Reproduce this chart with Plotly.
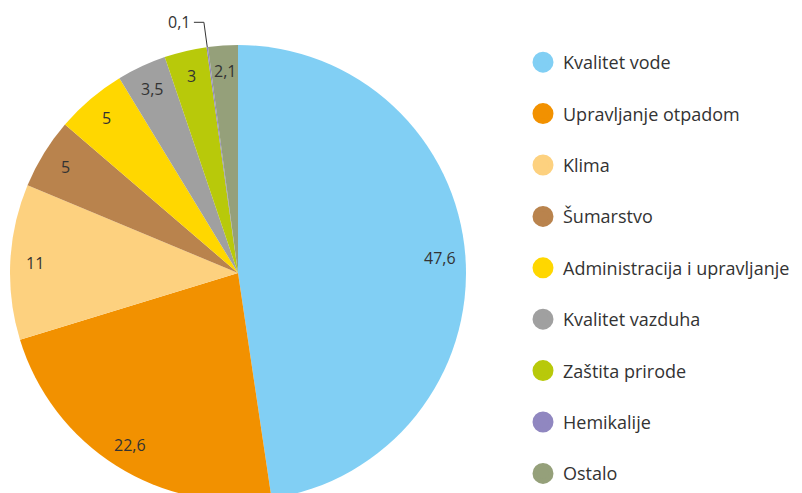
import math
import plotly.graph_objects as go

categories = ["Kvalitet vode", "Upravljanje otpadom", "Klima", "Šumarstvo",
              "Administracija i upravljanje", "Kvalitet vazduha", "Zaštita prirode",
              "Hemikalije", "Ostalo"]
values = [47.6, 22.6, 11, 5, 5, 3.5, 3, 0.1, 2.1]
value_labels = ["47,6", "22,6", "11", "5", "5", "3,5", "3", "0,1", "2,1"]
colors = ["#81CFF4", "#F29100", "#FDD17F", "#B9834D", "#FFD700",
          "#A0A0A0", "#B8C90A", "#9087C0", "#95A07A"]

W, H = 802, 493
OFF = 8  # page body margin
CX, CY, R = 238 - OFF, 273 - OFF, 228  # pie centre / radius in figure pixels
FONT = "Open Sans"
TXT = "#333333"

fig = go.Figure()
fig.add_trace(go.Pie(
    labels=categories, values=values, sort=False, direction="clockwise",
    rotation=0, marker=dict(colors=colors, line=dict(width=0)),
    textinfo="none", hoverinfo="label+value", showlegend=False,
    domain=dict(x=[(CX - R) / W, (CX + R) / W], y=[0, 2 * R / H]),
))

# legend entries as circles
for i, (c, col) in enumerate(zip(categories, colors)):
    fig.add_trace(go.Scatter(x=[None], y=[None], mode="markers", name=c,
                             legendgroup=f"g{i}",
                             marker=dict(symbol="circle", size=16, color=col,
                                         line=dict(width=5, color=col))))

def px2paper(x, y):
    return x / W, 1 - y / H

total = sum(values)
cum = 0
annotations = []
shapes = []
for v, lab in zip(values, value_labels):
    mid = (cum + v / 2) / total * 2 * math.pi
    cum += v
    sx, sy = math.sin(mid), -math.cos(mid)
    if lab == "0,1":
        ex, ey = CX + R * sx, CY + R * sy
        kx, ky = CX + (R + 25) * sx, CY + (R + 25) * sy
        lx, ly = kx - 10, ky
        p = [px2paper(ex, ey), px2paper(kx, ky), px2paper(lx, ly)]
        shapes.append(dict(type="path", xref="paper", yref="paper",
                           path=f"M {p[0][0]} {p[0][1]} L {p[1][0]} {p[1][1]} L {p[2][0]} {p[2][1]}",
                           line=dict(color="#333333", width=1)))
        ax_, ay_ = px2paper(lx - 2, ly)
        annotations.append(dict(x=ax_, y=ay_, xref="paper", yref="paper", text=lab,
                                showarrow=False, xanchor="right", yanchor="middle",
                                font=dict(family=FONT, size=16, color=TXT)))
    else:
        rr = 0.89 * R
        tx, ty = px2paper(CX + rr * sx, CY + rr * sy)
        annotations.append(dict(x=tx, y=ty, xref="paper", yref="paper", text=lab,
                                showarrow=False, xanchor="center", yanchor="middle",
                                font=dict(family=FONT, size=16, color=TXT)))

fig.update_layout(
    width=W, height=H, margin=dict(l=0, r=0, t=0, b=0),
    paper_bgcolor="white", plot_bgcolor="white",
    xaxis=dict(visible=False), yaxis=dict(visible=False),
    font=dict(family=FONT, color=TXT),
    legend=dict(x=(523 - OFF) / W, y=1 - (44 - OFF) / H, xanchor="left", yanchor="top",
                font=dict(family=FONT, size=18, color=TXT),
                tracegroupgap=25, itemsizing="trace", bgcolor="rgba(0,0,0,0)"),
    annotations=annotations, shapes=shapes,
)

fig.write_html("out.html")
